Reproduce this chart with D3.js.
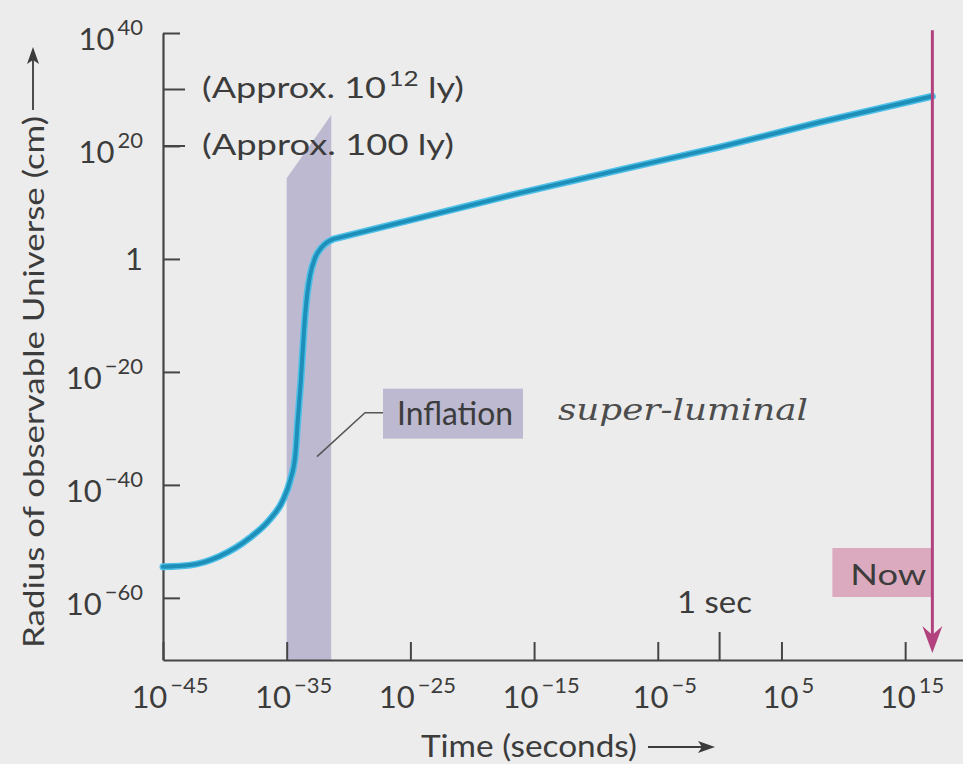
<!DOCTYPE html>
<html>
<head>
<meta charset="utf-8">
<script src="https://cdn.jsdelivr.net/npm/d3@7"></script>
<style>
  body { margin: 0; background: #ececec; }
  svg { display: block; }
</style>
</head>
<body>
<div id="chart"></div>
<script>
// blue curve: log10 of time (s) and log10 of radius (cm)
var logTime   = [-45, -42.8, -40.4, -38.0, -36.4, -35.3, -34.7, -34.3, -34.1, -33.85, -33.6, -33.35, -33.1, -32.7, -32.15, -31.25, -24.2, -16.1, -7.0, 0.0, 8.1, 17.2];
var logRadius = [-54.5, -54.2, -52.6, -49.4, -46.2, -42.7, -39.1, -34.7, -28.5, -21.4, -12.6, -6.4, -2.8, 0.2, 2.1, 3.5, 7.3, 11.7, 16.3, 19.8, 24.2, 28.8];
// after inflation ends the curve runs straight on log axes
var kneeTime = -31.25;

// axis ticks (as powers of ten)
var xTickExps = [-45, -35, -25, -15, -5, 5, 15];
var yTickExps = [40, 20, 0, -20, -40, -60];

// notes on the radius axis
var noteExps = [30, 20];
var noteMain = ["(Approx. 10", "(Approx. 100 ly)"];
var noteSup  = ["12", ""];
var noteTail = [" ly)", ""];

// inflation band: time span and slanted top (log10 cm)
var bandTime = [-35, -31.4];
var bandTop  = [14.3, 25.5];

// "now" marker
var nowExp = 17.2;
var nowTopExp = 40.5;

var config = {
    width: 963,
    height: 764,
    x0: 163, x1: 967,
    y0: 660, y1: 33,
    font: 'Lato, "Open Sans", sans-serif',
    text: '#3c3c3c',
    axis: '#454545',
    band: '#bcb9d0',
    curveOuter: '#4ec0e8',
    curveInner: '#1d8fb9',
    nowLine: '#b2427e',
    nowBox: '#dcaabf'
};

function minus(e) { return e < 0 ? '\u2212' + Math.abs(e) : String(e); }

var svg = d3.select('#chart').append('svg')
    .attr('width', config.width)
    .attr('height', config.height)
    .style('font-family', config.font);

svg.append('rect')
    .attr('width', config.width)
    .attr('height', config.height)
    .attr('fill', '#ececec');

var x = d3.scaleLog().domain([1e-45, 1e20]).range([config.x0, config.x1]);
var y = d3.scaleLog().domain([1e-71, 1e40]).range([config.y0, config.y1]);
function px(e) { return x(Math.pow(10, e)); }
function py(e) { return y(Math.pow(10, e)); }

// inflation band
svg.append('path')
    .attr('d', d3.line()([
        [px(bandTime[0]), config.y0],
        [px(bandTime[0]), py(bandTop[0])],
        [px(bandTime[1]), py(bandTop[1])],
        [px(bandTime[1]), config.y0]
    ]) + 'Z')
    .attr('fill', config.band);

// axes
var yAxis = svg.append('g')
    .attr('transform', 'translate(' + config.x0 + ',0)')
    .call(d3.axisLeft(y)
        .tickValues(yTickExps.map(function (e) { return Math.pow(10, e); }))
        .tickSize(-17).tickSizeOuter(0).tickFormat(''));

var xAxis = svg.append('g')
    .attr('transform', 'translate(0,' + config.y0 + ')')
    .call(d3.axisBottom(x)
        .tickValues(xTickExps.map(function (e) { return Math.pow(10, e); }))
        .tickSize(-18).tickSizeOuter(0).tickFormat(''));

[yAxis, xAxis].forEach(function (g) {
    g.select('.domain').attr('stroke', config.axis).attr('stroke-width', 2.2);
    g.selectAll('.tick line').attr('stroke', config.axis).attr('stroke-width', 2);
});

// 1 second tick, a bit taller
svg.append('line')
    .attr('x1', px(0)).attr('x2', px(0))
    .attr('y1', config.y0).attr('y2', config.y0 - 28)
    .attr('stroke', config.axis).attr('stroke-width', 2);

// note ticks
svg.selectAll('.note-tick')
    .data(noteExps)
    .enter().append('line')
    .attr('x1', config.x0).attr('x2', config.x0 + 22)
    .attr('y1', function (d) { return py(d); })
    .attr('y2', function (d) { return py(d); })
    .attr('stroke', config.axis).attr('stroke-width', 2);

// y tick labels
yTickExps.forEach(function (e) {
    var t = svg.append('text')
        .attr('x', config.x0 - 20)
        .attr('y', py(e) + (e === 0 ? 11 : 17))
        .attr('text-anchor', 'end')
        .attr('fill', config.text)
        .attr('font-size', 31);
    if (e === 0) {
        t.text('1');
    } else {
        t.append('tspan').text('10');
        t.append('tspan').attr('dy', -15).attr('dx', 3).attr('font-size', 22).text(minus(e));
    }
});

// x tick labels
xTickExps.forEach(function (e) {
    var t = svg.append('text')
        .attr('x', px(e) + 7)
        .attr('y', config.y0 + 48)
        .attr('text-anchor', 'middle')
        .attr('fill', config.text)
        .attr('font-size', 31);
    t.append('tspan').text('10');
    t.append('tspan').attr('dy', -15).attr('dx', 3).attr('font-size', 22).text(minus(e));
});

// notes beside radius axis
noteExps.forEach(function (e, i) {
    var t = svg.append('text')
        .attr('x', config.x0 + 39)
        .attr('y', py(e) + 9)
        .attr('fill', config.text)
        .attr('font-size', 29)
        .attr('textLength', i === 0 ? 262 : 252)
        .attr('lengthAdjust', 'spacingAndGlyphs');
    t.append('tspan').text(noteMain[i]);
    if (noteSup[i]) {
        t.append('tspan').attr('dy', -12).attr('dx', 2).attr('font-size', 21).text(noteSup[i]);
        t.append('tspan').attr('dy', 12).text(noteTail[i]);
    }
});

// the curve: smooth through inflation, straight afterwards
var pts = d3.zip(logTime, logRadius);
var early = pts.filter(function (d) { return d[0] <= kneeTime; });
var late = pts.filter(function (d) { return d[0] >= kneeTime; });
var smooth = d3.line()
    .x(function (d) { return px(d[0]); })
    .y(function (d) { return py(d[1]); })
    .curve(d3.curveMonotoneX);
var straight = d3.line()
    .x(function (d) { return px(d[0]); })
    .y(function (d) { return py(d[1]); });
var curvePath = smooth(early) + straight(late).replace(/^M/, 'L');

svg.append('path').attr('d', curvePath)
    .attr('fill', 'none').attr('stroke', config.curveOuter)
    .attr('stroke-width', 7).attr('stroke-linecap', 'round').attr('stroke-linejoin', 'round');
svg.append('path').attr('d', curvePath)
    .attr('fill', 'none').attr('stroke', config.curveInner)
    .attr('stroke-width', 4).attr('stroke-linecap', 'round').attr('stroke-linejoin', 'round');

// inflation label and leader line
var lead = [px(-32.55), py(-35)];
svg.append('path')
    .attr('d', d3.line()([lead, [lead[0] + 48, lead[1] - 44], [lead[0] + 66, lead[1] - 44]]))
    .attr('fill', 'none').attr('stroke', '#555').attr('stroke-width', 1.5);
svg.append('rect')
    .attr('x', lead[0] + 66).attr('y', lead[1] - 68)
    .attr('width', 140).attr('height', 50)
    .attr('fill', config.band);
svg.append('text')
    .attr('x', lead[0] + 80).attr('y', lead[1] - 32)
    .attr('fill', config.text).attr('font-size', 32)
    .attr('textLength', 116).attr('lengthAdjust', 'spacingAndGlyphs')
    .text('Inflation');

// handwritten note
svg.append('text')
    .attr('x', 558).attr('y', 420)
    .attr('fill', '#4d4d4d')
    .attr('font-family', '"DejaVu Serif", serif')
    .attr('font-style', 'italic')
    .attr('font-size', 30)
    .attr('textLength', 250).attr('lengthAdjust', 'spacingAndGlyphs')
    .text('super-luminal');

// now marker
var nowX = px(nowExp);
svg.append('rect')
    .attr('x', nowX - 100).attr('y', 548)
    .attr('width', 100).attr('height', 49)
    .attr('fill', config.nowBox);
svg.append('text')
    .attr('x', nowX - 6).attr('y', 585)
    .attr('text-anchor', 'end')
    .attr('fill', config.text).attr('font-size', 29)
    .attr('textLength', 76).attr('lengthAdjust', 'spacingAndGlyphs')
    .text('Now');
svg.append('line')
    .attr('x1', nowX).attr('x2', nowX)
    .attr('y1', py(nowTopExp)).attr('y2', config.y0 - 20)
    .attr('stroke', config.nowLine).attr('stroke-width', 3);
svg.append('path')
    .attr('d', d3.line()([[nowX - 10, config.y0 - 34], [nowX, config.y0 - 7], [nowX + 10, config.y0 - 34], [nowX, config.y0 - 25]]) + 'Z')
    .attr('fill', config.nowLine);

// 1 sec label
svg.append('text')
    .attr('x', 677).attr('y', 613)
    .attr('fill', config.text).attr('font-size', 31)
    .attr('textLength', 75).attr('lengthAdjust', 'spacingAndGlyphs')
    .text('1 sec');

// axis titles with arrows
svg.append('text')
    .attr('transform', 'translate(44,648) rotate(-90)')
    .attr('fill', config.text).attr('font-size', 28)
    .attr('textLength', 532).attr('lengthAdjust', 'spacingAndGlyphs')
    .text('Radius of observable Universe (cm)');
svg.append('line')
    .attr('x1', 33).attr('x2', 33).attr('y1', 110).attr('y2', 56)
    .attr('stroke', config.text).attr('stroke-width', 1.8);
svg.append('path')
    .attr('d', d3.line()([[27, 64], [33, 47], [39, 64], [33, 60]]) + 'Z')
    .attr('fill', config.text);

svg.append('text')
    .attr('x', 421).attr('y', 757)
    .attr('fill', config.text).attr('font-size', 30)
    .attr('textLength', 216).attr('lengthAdjust', 'spacingAndGlyphs')
    .text('Time (seconds)');
svg.append('line')
    .attr('x1', 648).attr('x2', 706).attr('y1', 747).attr('y2', 747)
    .attr('stroke', config.text).attr('stroke-width', 1.8);
svg.append('path')
    .attr('d', d3.line()([[698, 741], [715, 747], [698, 753], [702, 747]]) + 'Z')
    .attr('fill', config.text);
</script>
</body>
</html>
